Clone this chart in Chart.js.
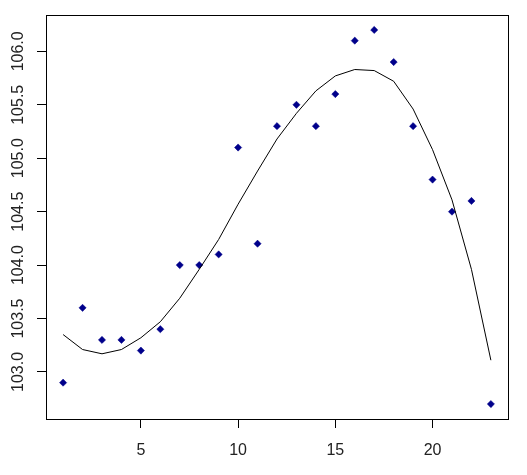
<!DOCTYPE html>
<html>
<head>
<meta charset="utf-8">
<script src="https://cdn.jsdelivr.net/npm/chart.js@4"></script>
<style>
  html, body { margin: 0; padding: 0; background: #fff; }
  canvas { display: block; }
</style>
</head>
<body>
<canvas id="plot" width="527" height="475"></canvas>
<script>
// observed values
const xs = [1, 2, 3, 4, 5, 6, 7, 8, 9, 10, 11, 12, 13, 14, 15, 16, 17, 18, 19, 20, 21, 22, 23];
const observed = [102.9, 103.6, 103.3, 103.3, 103.2, 103.4, 104.0, 104.0, 104.1, 105.1, 104.2, 105.3,
                  105.5, 105.3, 105.6, 106.1, 106.2, 105.9, 105.3, 104.8, 104.5, 104.6, 102.7];
// smoothed fit
const fitted = [103.35, 103.21, 103.17, 103.21, 103.32, 103.47, 103.69, 103.96, 104.24, 104.57, 104.88, 105.18,
                105.42, 105.63, 105.77, 105.83, 105.82, 105.72, 105.46, 105.08, 104.61, 103.96, 103.11];
const xTicks = [5, 10, 15, 20];
const yTicks = [103.0, 103.5, 104.0, 104.5, 105.0, 105.5, 106.0];

const boxPlugin = {
    id: 'box',
    afterDraw(chart) {
        const c = chart.ctx;
        const a = chart.chartArea;
        c.save();
        c.strokeStyle = '#000';
        c.lineWidth = 1;
        c.strokeRect(Math.round(a.left) + 0.5, Math.round(a.top) + 0.5,
                     Math.round(a.right - a.left), Math.round(a.bottom - a.top));

        // rotated y labels like base R
        const y = chart.scales.y;
        c.fillStyle = '#222';
        c.font = '16px "Liberation Sans", Arial, sans-serif';
        c.textAlign = 'center';
        c.textBaseline = 'middle';
        yTicks.forEach(v => {
            const py = y.getPixelForValue(v);
            c.save();
            c.translate(19, py);
            c.rotate(-Math.PI / 2);
            c.fillText(v.toFixed(1), 0, 0);
            c.restore();
        });
        c.restore();
    }
};

const points = xs.map((x, i) => ({x: x, y: observed[i]}));
const curve = xs.map((x, i) => ({x: x, y: fitted[i]}));

new Chart(document.getElementById('plot').getContext('2d'), {
    type: 'scatter',
    data: {
        datasets: [
            {
                data: curve,
                showLine: true,
                borderColor: '#000',
                borderWidth: 1,
                pointRadius: 0,
                tension: 0
            },
            {
                data: points,
                pointStyle: 'rectRot',
                pointRadius: 3.6,
                backgroundColor: '#00008B',
                borderColor: '#00008B',
                borderWidth: 0.5
            }
        ]
    },
    options: {
        responsive: false,
        animation: false,
        events: [],
        layout: { padding: { top: 15, right: 19, left: 0, bottom: 0 } },
        plugins: { legend: { display: false }, tooltip: { enabled: false } },
        scales: {
            x: {
                type: 'linear',
                min: 0.12,
                max: 23.88,
                afterBuildTicks: s => { s.ticks = xTicks.map(v => ({value: v})); },
                afterFit: s => { s.height = 56; },
                border: { display: false },
                grid: { drawOnChartArea: false, drawTicks: true, tickLength: 9, color: '#000' },
                ticks: {
                    color: '#222',
                    padding: 13,
                    maxRotation: 0,
                    font: { size: 16, family: '"Liberation Sans", Arial, sans-serif' }
                }
            },
            y: {
                type: 'linear',
                min: 102.56,
                max: 106.34,
                afterBuildTicks: s => { s.ticks = yTicks.map(v => ({value: v})); },
                afterFit: s => { s.width = 46; },
                border: { display: false },
                grid: { drawOnChartArea: false, drawTicks: true, tickLength: 9, color: '#000' },
                ticks: { color: 'rgba(0,0,0,0)', font: { size: 16 } }
            }
        }
    },
    plugins: [boxPlugin]
});
</script>
</body>
</html>
